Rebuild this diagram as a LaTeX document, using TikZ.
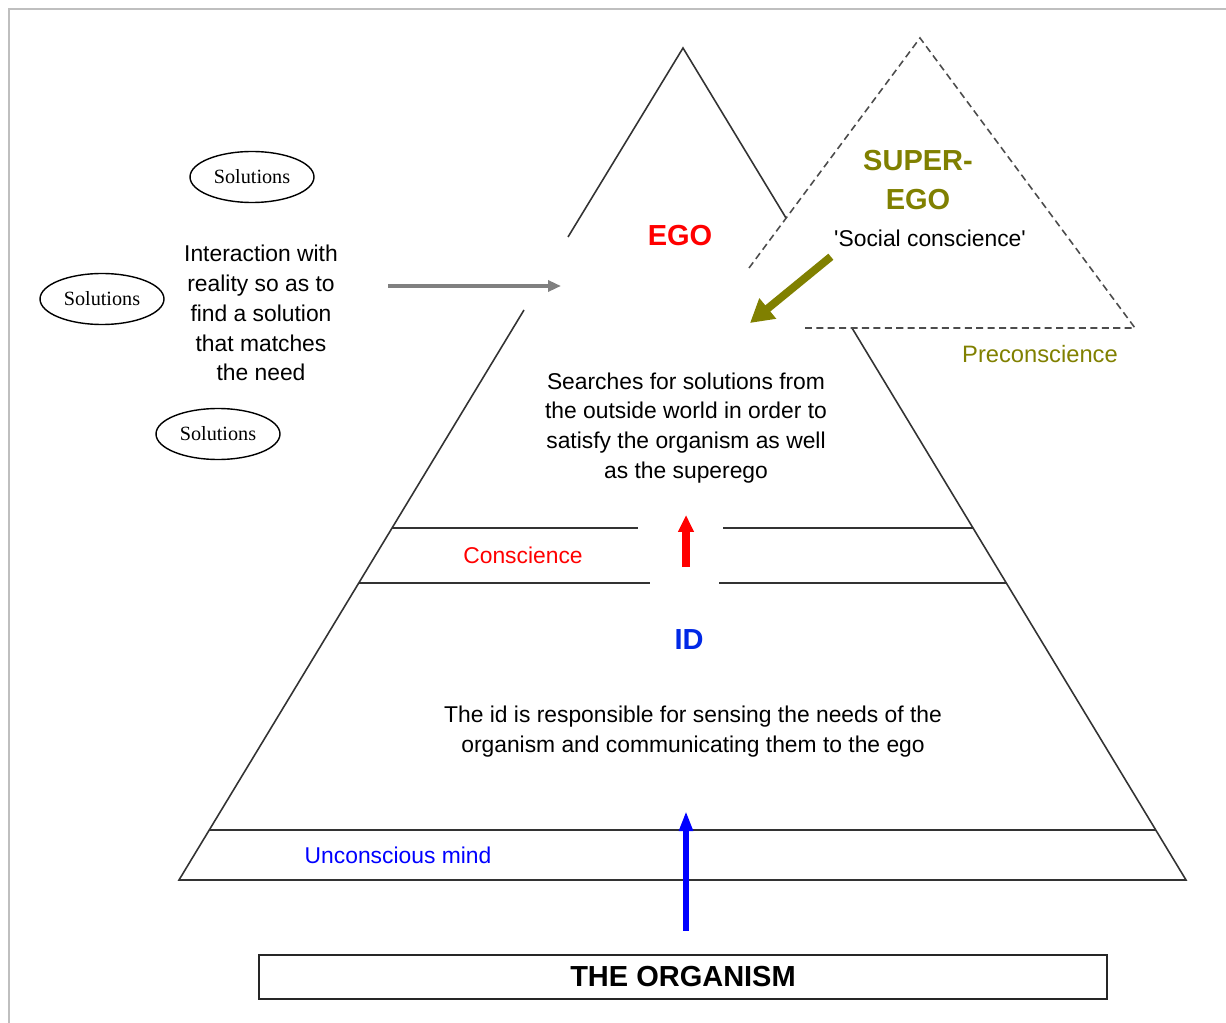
\documentclass[tikz,border=0pt]{standalone}
\usepackage{fontspec}
\setmainfont{Liberation Sans}
\newfontfamily\solfont{Liberation Serif}
\usetikzlibrary{arrows.meta,shapes.geometric}

\definecolor{supercol}{RGB}{128,128,0}
\definecolor{idblue}{RGB}{0,40,230}

\begin{document}
\begin{tikzpicture}[x=0.02cm,y=-0.02cm,
  pline/.style={line width=0.9pt,black!80},
  hline/.style={line width=1.2pt,black!80},
  sline/.style={line width=0.9pt,black!70,dash pattern=on 4pt off 2.5pt},
  txt/.style={font=\fontsize{13}{17}\selectfont,align=center,inner sep=0pt},
  big/.style={font=\fontsize{16.5}{22}\selectfont\bfseries,align=center,inner sep=0pt},
  sol/.style={ellipse,draw,line width=0.8pt,minimum width=2.48cm,minimum height=1.02cm,
    inner sep=0pt,font=\solfont\fontsize{11.5}{13}\selectfont},
  fat/.style={line width=4pt,-{Triangle[length=0.34cm,width=0.3cm]}}]

\useasboundingbox (0,0) rectangle (1226,1023);
\draw[black!25,line width=1.4pt] (9,1023) -- (9,9) -- (1226,9);

% main pyramid
\draw[pline] (568,237) -- (683,48) -- (786,218);
\draw[pline] (524,310) -- (179,880) -- (1186,880) -- (852,328);

% super-ego
\draw[sline] (749,268) -- (920,38) -- (1135,328) -- (805,328);

% layers
\draw[hline] (392,528) -- (638,528);
\draw[hline] (723,528) -- (973,528);
\draw[hline] (359,583) -- (650,583);
\draw[hline] (719,583) -- (1006,583);
\draw[hline] (209,830) -- (1156,830);

% texts
\node[big,red] (ego) at (680,236) {EGO};
\node[big,supercol] (superego) at (918,180) {SUPER-\\EGO};
\node[txt] (social) at (930,238) {\textquotesingle Social conscience\textquotesingle};
\node[txt,supercol,font=\fontsize{13.5}{17}\selectfont] (precon) at (1040,354) {Preconscience};

\node[txt] (interaction) at (261,313) {Interaction with\\reality so as to\\find a solution\\that matches\\the need};
\node[sol] (sol1) at (252,177) {Solutions};
\node[sol] (sol2) at (102,299) {Solutions};
\node[sol] (sol3) at (218,434) {Solutions};

\node[txt] (searches) at (686,428) {Searches for solutions from\\the outside world in order to\\satisfy the organism as well\\as the superego};
\node[txt,red] (conscience) at (523,555) {Conscience};
\node[big,idblue] (id) at (689,640) {ID};
\node[txt] (idtext) at (693,732) {The id is responsible for sensing the needs of the\\organism and communicating them to the ego};
\node[txt,blue] (unconscious) at (398,855) {Unconscious mind};

\node[draw=black!85,line width=1.3pt,text=black,minimum width=16.96cm,minimum height=0.88cm,big] (organism) at (683,977) {THE ORGANISM};

% arrows
\coordinate (egoin) at (561,286);
\coordinate (superin) at (750,323);
\coordinate (conlow) at (686,567);
\coordinate (conup) at (686,515);
\coordinate (idin) at (686,811);

\draw[line width=1.8pt,black!50,-{Triangle[length=0.26cm,width=0.22cm]},shorten <=1cm] (interaction.east |- egoin) -- (egoin);
\draw[fat,supercol,line width=4.5pt,-{Triangle[length=0.46cm,width=0.5cm]}] ([xshift=-0.06cm,yshift=-0.2cm]social.south west) -- (superin);
\draw[fat,red] (conlow) -- (conup);
\draw[fat,blue,line width=3.6pt,-{Triangle[length=0.4cm,width=0.26cm]},shorten <=0.46cm] (organism.north -| idin) -- (idin);

\end{tikzpicture}
\end{document}
